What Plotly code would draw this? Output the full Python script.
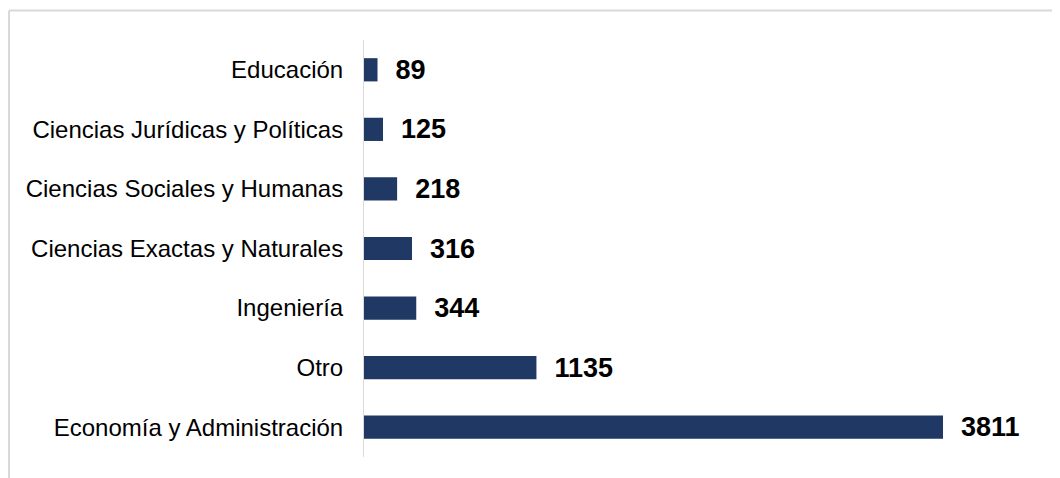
import plotly.graph_objects as go

categories = [
    "Economía y Administración",
    "Otro",
    "Ingeniería",
    "Ciencias Exactas y Naturales",
    "Ciencias Sociales y Humanas",
    "Ciencias Jurídicas y Políticas",
    "Educación",
]
values = [3811, 1135, 344, 316, 218, 125, 89]

BAR_COLOR = "#203864"
FONT = "Liberation Sans, Arial, sans-serif"

fig = go.Figure(
    go.Bar(
        x=values,
        y=categories,
        orientation="h",
        marker=dict(color=BAR_COLOR, line=dict(width=0)),
        width=0.39,
        text=values,
        texttemplate="\u00a0\u00a0<b>%{x}</b>",
        textposition="outside",
        constraintext="none",
        textfont=dict(family=FONT, size=27, color="#000000"),
        cliponaxis=False,
        hoverinfo="skip",
    )
)

fig.update_layout(
    width=1060,
    height=478,
    margin=dict(l=356, r=20, t=32, b=29),
    paper_bgcolor="white",
    plot_bgcolor="white",
    showlegend=False,
    font=dict(family=FONT, color="#000000"),
    xaxis=dict(
        range=[0, 4502],
        visible=False,
        showgrid=False,
        zeroline=False,
    ),
    yaxis=dict(
        showgrid=False,
        zeroline=False,
        showline=True,
        linecolor="#d9d9d9",
        linewidth=1,
        ticks="",
        ticklabelstandoff=15,
        tickfont=dict(family=FONT, size=24, color="#000000"),
        automargin=False,
    ),
    shapes=[
        dict(
            type="line", xref="paper", yref="paper",
            xsizemode="pixel", ysizemode="pixel",
            xanchor=0, yanchor=1,
            x0=-355, x1=800, y0=29.5, y1=29.5,
            line=dict(color="#d9d9d9", width=2),
        ),
        dict(
            type="line", xref="paper", yref="paper",
            xsizemode="pixel", ysizemode="pixel",
            xanchor=0, yanchor=1,
            x0=-355, x1=-355, y0=29.5, y1=-500,
            line=dict(color="#d9d9d9", width=2),
        ),
    ],
)

fig.write_html("out.html")
